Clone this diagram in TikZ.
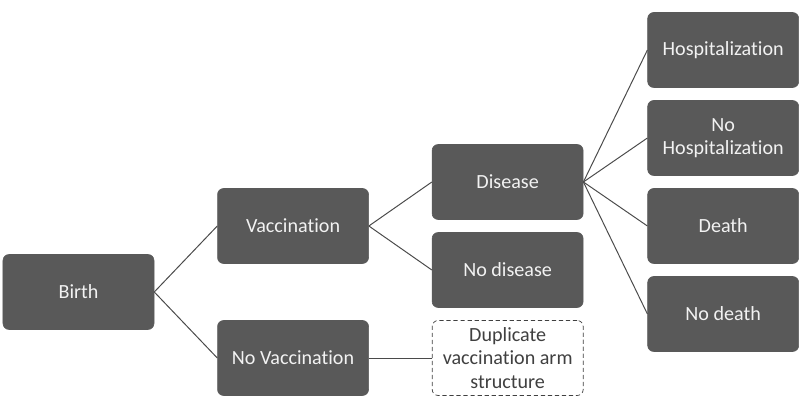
\documentclass[tikz,border=0pt]{standalone}
\usepackage{fontspec}
\setmainfont{Carlito}[Ligatures=NoCommon]
\usepackage{tikz}
\usetikzlibrary{positioning}
\definecolor{boxgray}{HTML}{595959}
\definecolor{linegray}{HTML}{4A4A4A}
\definecolor{dupgray}{HTML}{404040}

\begin{document}
\begin{tikzpicture}[node distance=1.575cm,
  box/.style={draw=boxgray, rounded corners=0.15cm, fill=boxgray, text=white!95!black, font=\fontsize{14.3}{16.5}\selectfont, align=center, minimum width=3.775cm, minimum height=1.875cm, inner sep=2pt},
  dupbox/.style={box, draw=dupgray, fill=white, text=dupgray, densely dashed, line width=0.5pt},
  link/.style={draw=linegray, line width=0.7pt}]
  \useasboundingbox (0,0) rectangle (20,10.05);
  \node[box] (birth) at (1.9625,2.75) {Birth};
  \node[box, right=of birth, yshift=1.65cm] (vac) {Vaccination};
  \node[box, right=of birth, yshift=-1.65cm] (novac) {No Vaccination};
  \node[box, right=of vac, yshift=1.1cm] (dis) {Disease};
  \node[box, right=of vac, yshift=-1.1cm] (nodis) {No disease};
  \node[dupbox, right=of novac] (dup) {Duplicate\\vaccination arm\\structure};
  \node[box, right=1.6cm of dis, yshift=3.3cm] (hosp) {Hospitalization};
  \node[box, right=1.6cm of dis, yshift=1.1cm] (nohosp) {No\\Hospitalization};
  \node[box, right=1.6cm of dis, yshift=-1.1cm] (death) {Death};
  \node[box, right=1.6cm of dis, yshift=-3.3cm] (nodeath) {No death};
  \foreach \a/\b in {birth/vac, birth/novac, vac/dis, vac/nodis, novac/dup, dis/hosp, dis/nohosp, dis/death, dis/nodeath} {\draw[link] (\a.east) -- (\b.west);}
\end{tikzpicture}
\end{document}
